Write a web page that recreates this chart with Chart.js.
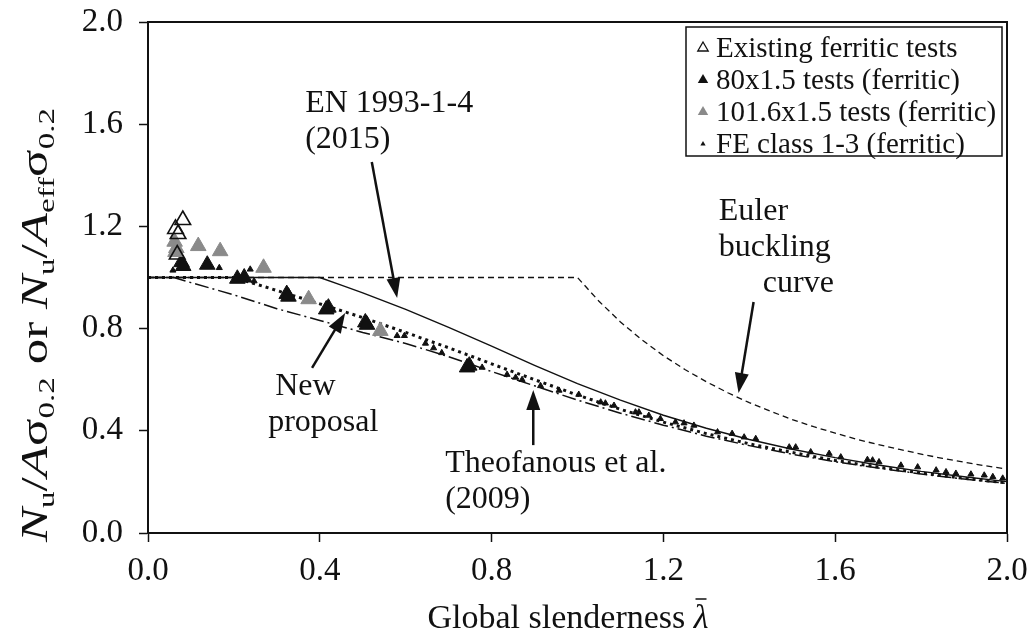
<!DOCTYPE html>
<html>
<head>
<meta charset="utf-8">
<script src="https://cdn.jsdelivr.net/npm/chart.js@4.4.1/dist/chart.umd.min.js"></script>
<style>
  body { margin: 0; background: #fff; }
  canvas { display: block; }
</style>
</head>
<body>
<canvas id="chart" width="1035" height="638"></canvas>
<script>
// values: [global slenderness, Nu/Afy]
var xTicks = [0, 0.4, 0.8, 1.2, 1.6, 2.0];
var yTicks = [0, 0.4, 0.8, 1.2, 1.6, 2.0];

var eulerCurve = [[0,1],[1.0,1],[1.05,0.907],[1.1,0.826],[1.15,0.756],[1.2,0.694],[1.25,0.64],[1.3,0.592],
  [1.35,0.549],[1.4,0.51],[1.45,0.476],[1.5,0.444],[1.55,0.416],[1.6,0.391],[1.65,0.367],[1.7,0.346],
  [1.75,0.327],[1.8,0.309],[1.85,0.292],[1.9,0.277],[1.95,0.263],[2.0,0.25]];
var enCurve = [[0,1],[0.4,1],[0.45,0.97],[0.5,0.94],[0.6,0.875],[0.7,0.805],[0.8,0.731],[0.9,0.656],[1.0,0.585],
  [1.1,0.52],[1.2,0.461],[1.3,0.41],[1.4,0.366],[1.5,0.328],[1.6,0.295],[1.7,0.266],[1.8,0.241],[1.9,0.22],[2.0,0.201]];
var newCurve = [[0,1],[0.2,1],[0.25,0.975],[0.3,0.949],[0.4,0.897],[0.5,0.843],[0.6,0.785],[0.7,0.725],[0.8,0.662],
  [0.9,0.6],[1.0,0.54],[1.1,0.484],[1.2,0.434],[1.3,0.389],[1.4,0.349],[1.5,0.315],[1.6,0.284],[1.7,0.258],
  [1.8,0.235],[1.9,0.214],[2.0,0.196]];
var theoCurve = [[0,1],[0.06,1],[0.1,0.98],[0.2,0.932],[0.3,0.878],[0.4,0.832],[0.5,0.785],[0.6,0.742],[0.7,0.69],
  [0.8,0.632],[0.9,0.576],[1.0,0.52],[1.1,0.469],[1.2,0.422],[1.3,0.379],[1.4,0.342],[1.5,0.308],[1.6,0.279],
  [1.7,0.254],[1.8,0.231],[1.9,0.211],[2.0,0.194]];

var existingTests = [[0.081,1.225],[0.064,1.19],[0.07,1.17],[0.068,1.09]];
var tests80 = [[0.078,1.06],[0.082,1.045],[0.138,1.05],[0.208,0.995],[0.224,1.0],[0.323,0.935],[0.327,0.925],
  [0.42,0.882],[0.415,0.875],[0.506,0.824],[0.51,0.815],[0.743,0.648],[0.748,0.655]];
var tests101 = [[0.062,1.14],[0.066,1.115],[0.064,1.1],[0.117,1.123],[0.168,1.103],[0.269,1.038],[0.374,0.915],[0.541,0.791]];
var feClass13 = [[0.058,1.028],[0.166,1.038],[0.238,1.032],[0.247,0.986],[0.58,0.772],[0.597,0.772],[0.646,0.742],
  [0.665,0.724],[0.684,0.705],[0.778,0.648],[0.836,0.62],[0.856,0.609],[0.871,0.6],[0.914,0.576],[0.957,0.558],
  [1.003,0.542],[1.054,0.512],[1.065,0.508],[1.085,0.499],[1.135,0.473],[1.143,0.473],[1.166,0.46],[1.193,0.447],
  [1.228,0.434],[1.248,0.43],[1.271,0.421],[1.326,0.395],[1.36,0.389],[1.388,0.375],[1.415,0.369],[1.493,0.336],
  [1.508,0.336],[1.543,0.317],[1.586,0.311],[1.613,0.297],[1.675,0.287],[1.687,0.285],[1.702,0.278],[1.753,0.265],
  [1.792,0.258],[1.835,0.246],[1.858,0.239],[1.881,0.233],[1.916,0.23],[1.947,0.226],[1.967,0.22],[1.99,0.214]];

var legendLabels = ["Existing ferritic tests", "80x1.5 tests (ferritic)", "101.6x1.5 tests (ferritic)", "FE class 1-3 (ferritic)"];

// text labels with arrows, in data units
var notes = [
  {lines: ["EN 1993-1-4", "(2015)"], at: [0.366, 1.648], tail: [0.521, 1.452], tip: [0.58, 0.92]},
  {lines: ["Euler", "buckling", "curve"], at: [1.329, 1.225], tail: [1.41, 0.904], tip: [1.375, 0.548]},
  {lines: ["New", "proposal"], at: [0.296, 0.54], tail: [0.382, 0.646], tip: [0.459, 0.861]},
  {lines: ["Theofanous et al.", "(2009)"], at: [0.692, 0.239], tail: [0.897, 0.344], tip: [0.897, 0.56]}
];
var noteOffsets = [[0, 0], [0, 0, 44], [0, -7], [0, 0]];

var SERIF = "'Liberation Serif', 'Times New Roman', serif";
var INK = "#111";

function toPts(arr) {
  return arr.map(function(p) { return {x: p[0], y: p[1]}; });
}

function lineSet(data, dash, width) {
  return {type: "line", data: toPts(data), borderColor: INK, borderWidth: width, borderDash: dash,
    pointRadius: 0, fill: false, tension: 0, order: 2};
}

function markSet(data, fill, stroke, r, bw) {
  return {type: "scatter", data: toPts(data), pointStyle: "triangle", pointRadius: r,
    backgroundColor: fill, borderColor: stroke, borderWidth: bw, order: 1};
}

function drawArrow(ctx, x1, y1, x2, y2) {
  var ang = Math.atan2(y2 - y1, x2 - x1);
  var hl = 20, hw = 7;
  ctx.beginPath();
  ctx.moveTo(x1, y1);
  ctx.lineTo(x2 - Math.cos(ang) * hl * 0.8, y2 - Math.sin(ang) * hl * 0.8);
  ctx.lineWidth = 2.5;
  ctx.stroke();
  ctx.beginPath();
  ctx.moveTo(x2, y2);
  ctx.lineTo(x2 - Math.cos(ang) * hl + Math.sin(ang) * hw, y2 - Math.sin(ang) * hl - Math.cos(ang) * hw);
  ctx.lineTo(x2 - Math.cos(ang) * hl - Math.sin(ang) * hw, y2 - Math.sin(ang) * hl + Math.cos(ang) * hw);
  ctx.closePath();
  ctx.fill();
}

function triangle(ctx, cx, cy, r, fill, stroke) {
  ctx.beginPath();
  ctx.moveTo(cx, cy - r);
  ctx.lineTo(cx + r * 0.87, cy + r * 0.5);
  ctx.lineTo(cx - r * 0.87, cy + r * 0.5);
  ctx.closePath();
  if (fill) { ctx.fillStyle = fill; ctx.fill(); }
  if (stroke) { ctx.strokeStyle = stroke; ctx.lineWidth = 1.3; ctx.stroke(); }
}

// draws a run of pieces [text, italic, shift] left to right, centred on 0
function drawRun(ctx, pieces, size, baseY) {
  var subSize = Math.round(size * 0.66);
  var widths = pieces.map(function(p) {
    ctx.font = (p[1] ? "italic " : "") + (p[2] ? subSize : size) + "px " + SERIF;
    return ctx.measureText(p[0]).width;
  });
  var total = widths.reduce(function(a, b) { return a + b; }, 0);
  var x = -total / 2;
  pieces.forEach(function(p, i) {
    ctx.font = (p[1] ? "italic " : "") + (p[2] ? subSize : size) + "px " + SERIF;
    ctx.fillText(p[0], x, baseY + (p[2] || 0));
    x += widths[i];
  });
  return total;
}

var overlay = {
  id: "overlay",
  afterDraw: function(chart) {
    var ctx = chart.ctx, a = chart.chartArea;
    var xs = chart.scales.x, ys = chart.scales.y;
    ctx.save();

    // frame
    ctx.strokeStyle = INK;
    ctx.lineWidth = 2;
    ctx.strokeRect(a.left, a.top, a.right - a.left, a.bottom - a.top);

    // notes and arrows
    ctx.fillStyle = INK;
    ctx.strokeStyle = INK;
    ctx.textAlign = "left";
    ctx.textBaseline = "alphabetic";
    ctx.font = "32px " + SERIF;
    notes.forEach(function(n, i) {
      var px = xs.getPixelForValue(n.at[0]);
      var py = ys.getPixelForValue(n.at[1]);
      n.lines.forEach(function(t, j) {
        var off = noteOffsets[i][j] || 0;
        ctx.fillText(t, px + off, py + j * 36);
      });
      drawArrow(ctx, xs.getPixelForValue(n.tail[0]), ys.getPixelForValue(n.tail[1]),
        xs.getPixelForValue(n.tip[0]), ys.getPixelForValue(n.tip[1]));
    });

    // legend box
    var lx = 686, ly = 27, lw = 316, lh = 129;
    ctx.fillStyle = "#fff";
    ctx.fillRect(lx, ly, lw, lh);
    ctx.lineWidth = 1.5;
    ctx.strokeStyle = INK;
    ctx.strokeRect(lx, ly, lw, lh);
    var styles = [[null, INK, 6], [INK, null, 6], ["#8a8a8a", null, 6], [INK, null, 3]];
    ctx.font = "29px " + SERIF;
    ctx.textBaseline = "middle";
    legendLabels.forEach(function(t, i) {
      var cy = ly + 20 + i * 32;
      triangle(ctx, 703, cy + 1, styles[i][2], styles[i][0], styles[i][1]);
      ctx.fillStyle = INK;
      ctx.fillText(t, 716, cy + 2);
    });

    // x axis title
    ctx.textBaseline = "alphabetic";
    ctx.save();
    ctx.translate(568, 628);
    var w = drawRun(ctx, [["Global slenderness ", false, 0], ["\u03bb", true, 0]], 34, 0);
    ctx.beginPath();
    ctx.moveTo(w / 2 - 13, -29);
    ctx.lineTo(w / 2 - 2, -29);
    ctx.lineWidth = 1.5;
    ctx.stroke();
    ctx.restore();

    // y axis title, rotated and a little stretched along its length like the original
    ctx.save();
    ctx.translate(47, 325);
    ctx.rotate(-Math.PI / 2);
    ctx.scale(1.38, 1);
    drawRun(ctx, [
      ["N", true, 0], ["u", false, 7], ["/", false, 0], ["A", true, 0], ["\u03c3", false, 0], ["0.2", false, 7],
      [" or ", false, 0], ["N", true, 0], ["u", false, 7], ["/", false, 0], ["A", true, 0], ["eff", false, 7],
      ["\u03c3", false, 0], ["0.2", false, 7]
    ], 37, 0);
    ctx.restore();

    ctx.restore();
  }
};

var tickFont = {family: SERIF, size: 33};

new Chart(document.getElementById("chart"), {
  type: "scatter",
  data: {
    datasets: [
      markSet(existingTests, "rgba(0,0,0,0)", INK, 9, 1.6),
      markSet(tests101, "#8a8a8a", "#8a8a8a", 9, 1),
      markSet(tests80, INK, INK, 9, 1),
      markSet(feClass13, INK, INK, 3.5, 1),
      lineSet(eulerCurve, [6, 4], 1.3),
      lineSet(enCurve, [], 1.4),
      lineSet(newCurve, [3, 4], 3),
      lineSet(theoCurve, [14, 4, 2, 4], 1.5)
    ]
  },
  options: {
    responsive: false,
    animation: false,
    layout: {padding: {top: 22, right: 28, left: 0, bottom: 0}},
    plugins: {legend: {display: false}, tooltip: {enabled: false}},
    scales: {
      x: {
        type: "linear", min: 0, max: 2,
        afterFit: function(s) { s.height = 105; s.paddingLeft = 0; s.paddingRight = 0; },
        afterBuildTicks: function(s) { s.ticks = xTicks.map(function(v) { return {value: v}; }); },
        ticks: {font: tickFont, color: INK, padding: 10, maxRotation: 0, autoSkip: false,
          callback: function(v) { return Number(v).toFixed(1); }},
        grid: {drawOnChartArea: false, tickLength: 9, tickColor: INK, tickWidth: 1.5},
        border: {color: INK, width: 2}
      },
      y: {
        type: "linear", min: 0, max: 2,
        afterFit: function(s) { s.width = 148; s.paddingTop = 0; s.paddingBottom = 0; },
        afterBuildTicks: function(s) { s.ticks = yTicks.map(function(v) { return {value: v}; }); },
        ticks: {font: tickFont, color: INK, padding: 16, autoSkip: false,
          callback: function(v) { return Number(v).toFixed(1); }},
        grid: {drawOnChartArea: false, tickLength: 9, tickColor: INK, tickWidth: 1.5},
        border: {color: INK, width: 2}
      }
    }
  },
  plugins: [overlay]
});
</script>
</body>
</html>
